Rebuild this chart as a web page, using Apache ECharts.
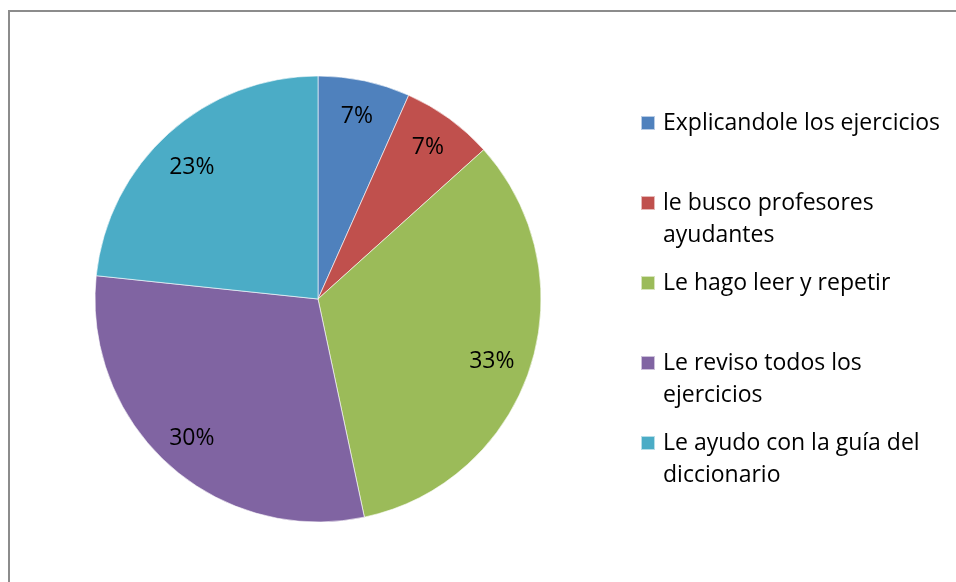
<!DOCTYPE html>
<html>
<head>
<meta charset="utf-8">
<script src="https://cdn.jsdelivr.net/npm/echarts@6/dist/echarts.min.js"></script>
<style>html,body{margin:0;padding:0;background:#fff;}#c{width:956px;height:582px;}</style>
</head>
<body>
<div id="c"></div>
<script>
// Data
const categories = [
  'Explicandole los ejercicios',
  'le busco profesores ayudantes',
  'Le hago leer y repetir',
  'Le reviso todos los ejercicios',
  'Le ayudo con la guía del diccionario'
];
const legendLines = [
  ['Explicandole los ejercicios'],
  ['le busco profesores', 'ayudantes'],
  ['Le hago leer y repetir'],
  ['Le reviso todos los', 'ejercicios'],
  ['Le ayudo con la guía del', 'diccionario']
];
const values = [2, 2, 10, 9, 7];
const colors = ['#4F81BD', '#C0504D', '#9BBB59', '#8064A2', '#4BACC6'];

const FONT = 'Open Sans';
const FS = 23;
const LFS = 23;
const LH = 32;
const cx = 318, cy = 299, R = 223;
const legendCenters = [123, 203, 283, 363, 443];
const labelNudges = [[0, 0], [0, 0], [-4, 5], [-1, 0], [-1, 7]];

const total = values.reduce((a, b) => a + b, 0);
const data = categories.map((n, i) => ({ name: n, value: values[i], itemStyle: { color: colors[i] } }));

const SQ = 14;
const tallH = LH + SQ; // icon box so that square sits on the first text line
const tallIcon = 'path://M0,0H' + SQ + 'V' + SQ + 'H0Z M0,' + (tallH - 0.01) + 'H0.01V' + tallH + 'H0Z';

const legends = categories.map((name, i) => {
  const lines = legendLines[i];
  const two = lines.length > 1;
  return {
    orient: 'vertical',
    left: 640,
    top: legendCenters[i] - LH / 2,
    padding: 0,
    itemWidth: SQ,
    itemHeight: two ? tallH : SQ,
    itemGap: 0,
    icon: two ? tallIcon : 'rect',
    selectedMode: false,
    data: [name],
    formatter: () => lines.join('\n'),
    textStyle: {
      fontFamily: FONT, fontSize: LFS, color: '#000', lineHeight: LH,
      padding: [0, 0, 0, 3]
    }
  };
});

const chart = echarts.init(document.getElementById('c'), null, { renderer: 'canvas' });
chart.setOption({
  animation: false,
  backgroundColor: '#fff',
  graphic: [{
    type: 'rect', shape: { x: 9, y: 11, width: 980, height: 620 },
    style: { fill: 'none', stroke: '#8c8c8c', lineWidth: 2 }, silent: true
  }],
  legend: legends,
  series: [{
    type: 'pie',
    center: [cx, cy],
    radius: [0, R],
    startAngle: 90,
    clockwise: true,
    silent: true,
    label: { show: false },
    labelLine: { show: false },
    itemStyle: { borderColor: 'rgba(255,255,255,0.6)', borderWidth: 1 },
    data: data
  }, {
    type: 'pie',
    center: [cx, cy],
    radius: [145, R],
    startAngle: 90,
    clockwise: true,
    silent: true,
    itemStyle: { color: 'rgba(0,0,0,0)', borderWidth: 0 },
    label: {
      show: true, position: 'inside',
      formatter: p => Math.round(p.value / total * 100) + '%',
      fontFamily: FONT, fontSize: FS, color: '#000'
    },
    labelLine: { show: false },
    data: categories.map((n, i) => ({ name: n, value: values[i], label: { offset: labelNudges[i] } }))
  }]
});
</script>
</body>
</html>
